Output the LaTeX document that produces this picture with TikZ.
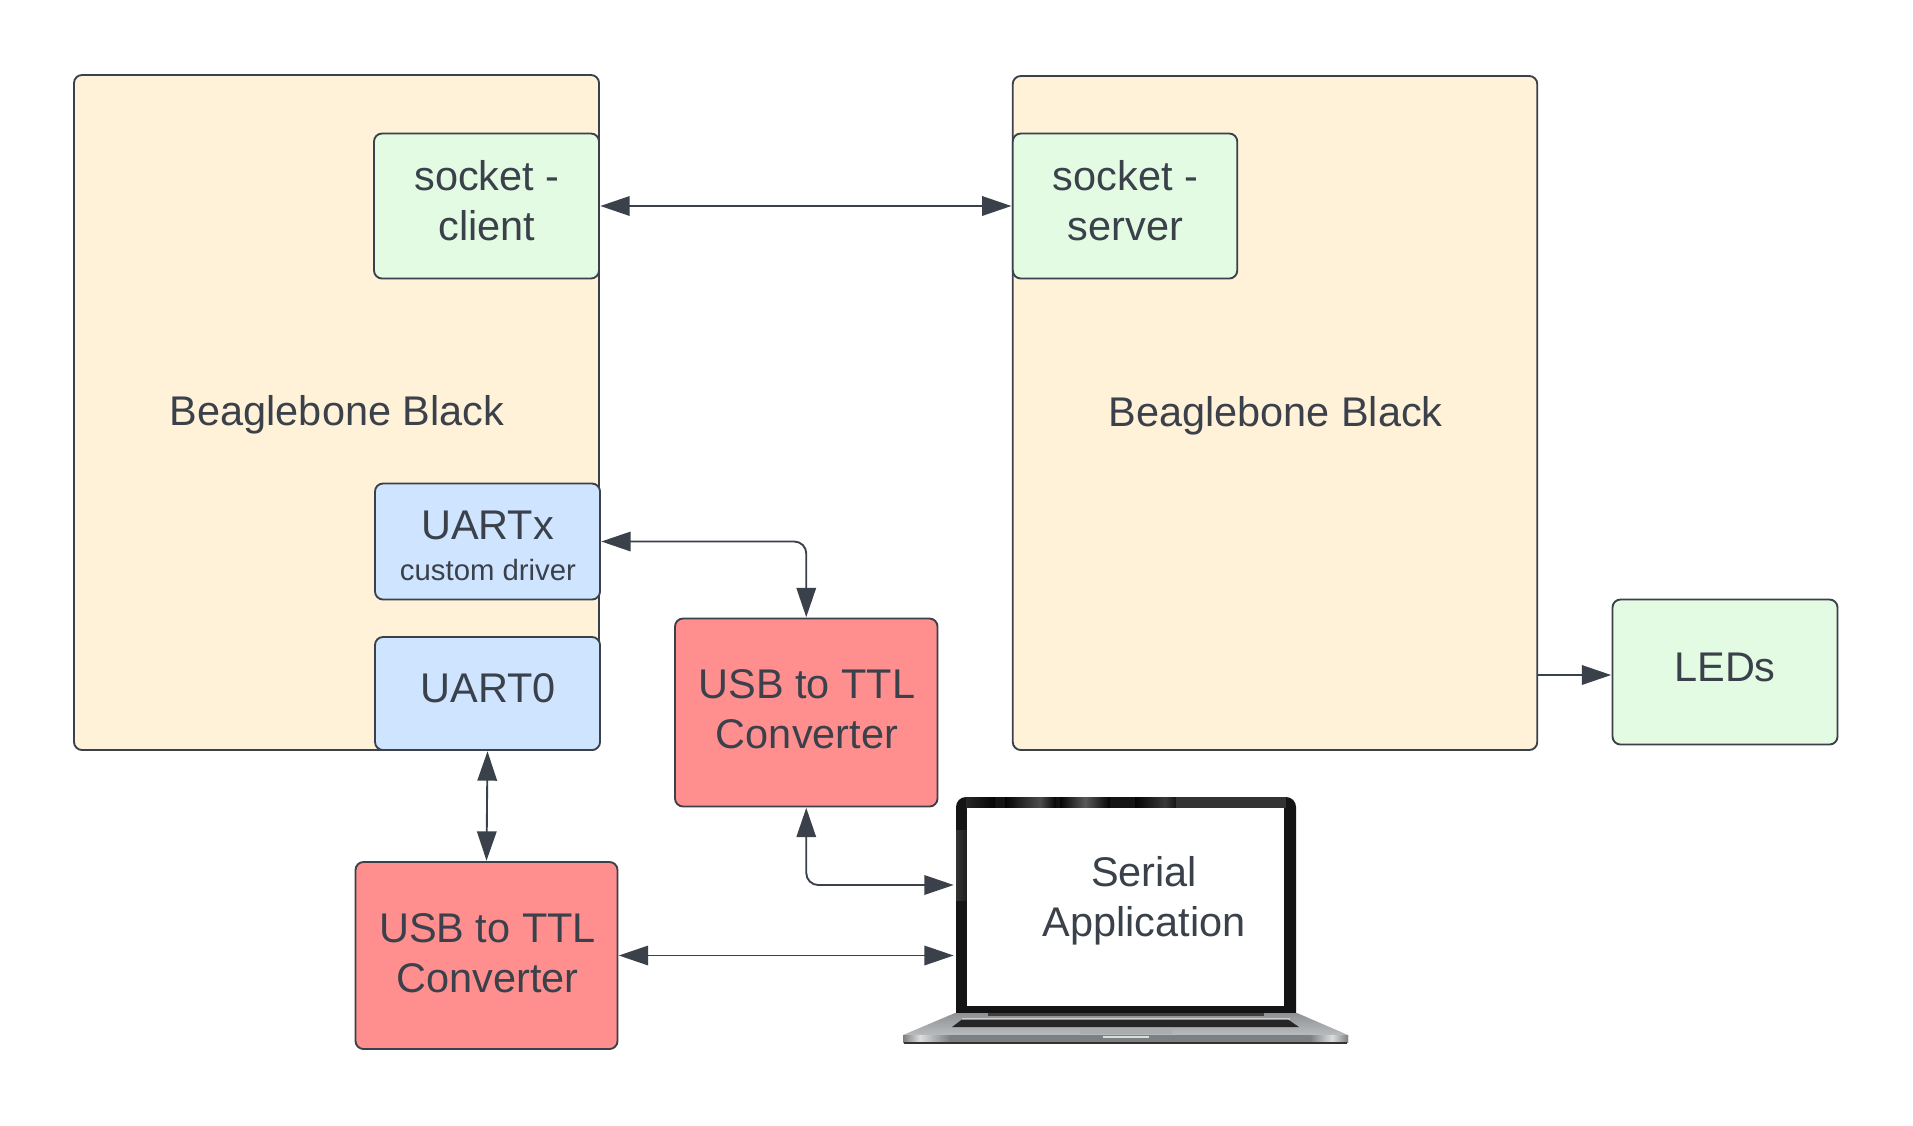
\documentclass[tikz,border=0pt]{standalone}
\usepackage{fontspec}
\setmainfont{Liberation Sans}
\usetikzlibrary{arrows.meta,calc}
\definecolor{ink}{HTML}{3A414A}
\definecolor{cream}{HTML}{FFF2D9}
\definecolor{mint}{HTML}{E3FAE3}
\definecolor{sky}{HTML}{CFE4FF}
\definecolor{coral}{HTML}{FF8F8F}
\definecolor{deckA}{HTML}{8E9294}
\definecolor{deckB}{HTML}{B8BCBE}
\definecolor{edgeA}{HTML}{7C8082}
\definecolor{edgeB}{HTML}{DCDEDE}
\tikzset{
  panel/.style 2 args={draw=ink,line width=1.4pt,rounded corners=6pt,inner sep=0pt,outer sep=0pt,
     minimum width=#1*0.75pt,minimum height=#2*0.75pt},
  board/.style 2 args={panel={#1}{#2},fill=cream},
  soft/.style 2 args={panel={#1}{#2},fill=mint},
  port/.style 2 args={panel={#1}{#2},fill=sky},
  conv/.style 2 args={panel={#1}{#2},fill=coral},
  txt/.style={text=ink,align=center,inner sep=0pt,font=\fontsize{31.1}{37.5}\selectfont},
  small/.style={text=ink,align=center,inner sep=0pt,font=\fontsize{22}{26}\selectfont},
  link/.style={draw=ink,line width=1.4pt,rounded corners=9pt,
     {Triangle[length=22pt,width=14.6pt]}-{Triangle[length=22pt,width=14.6pt]},shorten <=1pt,shorten >=1pt},
  oneway/.style={draw=ink,line width=1.4pt,-{Triangle[length=22pt,width=14.6pt]},shorten >=1pt},
}
\begin{document}
\begin{tikzpicture}[x=0.75pt,y=-0.75pt]
\useasboundingbox[fill=white] (0,0) rectangle (1913,1125);
% boards
\node[board={525}{675}] (bbl) at (336.5,412.5) {};
\node[board={524.5}{674}] (bbr) at (1275,413) {};
\node[txt] (bbltxt) at (337,415) {Beaglebone Black};
\node[txt] (bbrtxt) at (1275.5,416) {Beaglebone Black};
% inner boxes
\node[soft={225}{145}] (client) at (486.5,206) {};
\node[txt] (clienttxt) at (487,201) {socket -\\client};
\node[soft={224.5}{145}] (server) at (1125,206) {};
\node[txt] (servertxt) at (1125.5,201) {socket -\\server};
\node[port={225}{116}] (uartx) at (487.5,541.5) {};
\node[txt] (uartxtxt) at (487.5,525) {UARTx};
\node[small] (uartxsub) at (488,570) {custom driver};
\node[port={225}{113}] (uartz) at (487.5,693.5) {};
\node[txt] (uartztxt) at (488,688) {UART0};
% converters
\node[conv={262.5}{188}] (usbb) at (806.25,712.5) {};
\node[txt] (usbbtxt) at (807,709) {USB to TTL\\Converter};
\node[conv={262}{187}] (usba) at (486.5,955.5) {};
\node[txt] (usbatxt) at (487.5,953) {USB to TTL\\Converter};
% LEDs
\node[soft={225}{145}] (leds) at (1725,672) {};
\node[txt] (ledstxt) at (1725,667) {LEDs};
% laptop lid
\fill[black!92] (956,1013) -- (956,807) arc[start angle=180,end angle=270,radius=10] -- (1286,797) arc[start angle=270,end angle=360,radius=10] -- (1296,1013) -- cycle;
\shade[left color=black!85,right color=black!98] (966,797) rectangle (995,808);
\shade[left color=black!98,right color=black!70] (1005,797) rectangle (1040,808);
\shade[left color=black!70,right color=black!98] (1040,797) rectangle (1056,808);
\shade[left color=black!98,right color=black!65] (1060,797) rectangle (1085,808);
\shade[left color=black!65,right color=black!98] (1085,797) rectangle (1110,808);
\shade[left color=black!98,right color=black!78] (1135,797) rectangle (1165,808);
\shade[left color=black!78,right color=black!92] (1165,797) rectangle (1176,808);
\fill[black!80] (1176,797) rectangle (1286,808);
\shade[left color=black!80,right color=black!88] (956,830) rectangle (967,900);
\node[fill=white,inner sep=0pt,outer sep=0pt,minimum width=237.75pt,minimum height=148.5pt] (laptop) at (1125.5,907) {};
% laptop deck
\path[top color=deckA,bottom color=deckB] (955,1013) -- (1297,1013) -- (1348,1035) -- (903,1035) -- cycle;
\fill[black!75] (988,1013) rectangle (1264,1016);
\fill[white!80!black] (962,1018) rectangle (1290,1019.5);
\fill[black!85] (962,1019.5) -- (1288,1019.5) -- (1299,1027) -- (952,1027) -- cycle;
\fill[black!8!deckB] (1080,1029) rectangle (1172,1034);
\path[left color=edgeA,right color=edgeA,middle color=edgeA] (903,1035) rectangle (1348,1042);
\shade[left color=edgeA,right color=edgeB] (903,1035) rectangle (920,1042);
\shade[left color=edgeB,right color=edgeA] (920,1035) rectangle (950,1042);
\shade[left color=edgeA,right color=edgeB] (1310,1035) rectangle (1332,1042);
\shade[left color=edgeB,right color=edgeA] (1332,1035) rectangle (1348,1042);
\fill[edgeB] (1103,1036) rectangle (1149,1038);
\fill[black!80] (904,1042) rectangle (1347,1043.5);
\node[txt] (laptoptxt) at (1144,901) {Serial\\Application};
% connector targets on the laptop's edge
\coordinate (lapup) at (955,885);
\coordinate (ledin) at ($(leds.west)+(0,3)$);
% connectors
\draw[link] (client.east) -- (server.west);
\draw[link] (uartx.east) -| (usbb.north);
\draw[link] (uartz.south) -- (usba.north);
\draw[link] (usbb.south) |- (lapup);
\draw[link] (usba.east) -- (usba.east -| lapup);
\draw[oneway] (bbr.east |- ledin) -- (ledin);
\end{tikzpicture}
\end{document}
